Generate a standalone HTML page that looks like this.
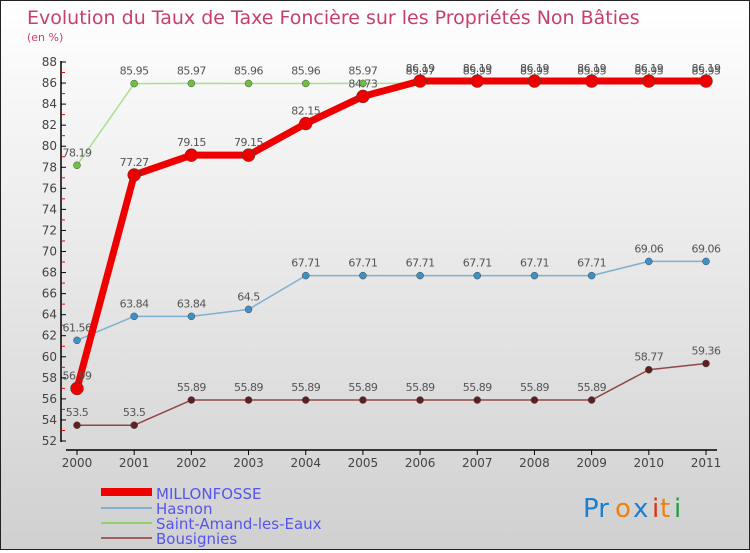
<!DOCTYPE html>
<html><head><meta charset="utf-8"><style>
body{margin:0;width:750px;height:550px;overflow:hidden}
#wrap{position:relative;width:748px;height:548px;border:1px solid #222;background:linear-gradient(#ffffff,#d0d0d0);font-family:"DejaVu Sans","Liberation Sans",sans-serif}
</style></head><body>
<div id="wrap">
<svg id="svg" width="748" height="548" xmlns="http://www.w3.org/2000/svg">
<text x="26" y="23" font-size="19" fill="#c8406a">Evolution du Taux de Taxe Foncière sur les Propriétés Non Bâties</text>
<text x="26" y="40" font-size="11" fill="#c8406a">(en %)</text>
<g id="axes"></g><g id="series"></g>
<g>
<rect x="100" y="487" width="51" height="8" fill="#e00"/>
<text x="155" y="498" font-size="15" fill="#5555ee">MILLONFOSSE</text>
<rect x="100" y="506" width="51" height="2" fill="#7fb0d0"/>
<text x="155" y="513" font-size="15" fill="#5555ee">Hasnon</text>
<rect x="100" y="521" width="51" height="2" fill="#90d070"/>
<text x="155" y="528" font-size="15" fill="#5555ee">Saint-Amand-les-Eaux</text>
<rect x="100" y="536" width="51" height="2" fill="#a06060"/>
<text x="155" y="543" font-size="15" fill="#5555ee">Bousignies</text>
</g>
<g font-size="26">
<text x="582" y="516" fill="#1a7fd0">Pr</text><text x="614" y="516" fill="#f08010">o</text><text x="632" y="516" fill="#1a7fd0">x</text><text x="651" y="516" fill="#e03010">i</text><text x="659" y="516" fill="#f08010">t</text><text x="673" y="516" fill="#20a040">i</text>
</g>
</svg></div>
<script>
const years=["2000","2001","2002","2003","2004","2005","2006","2007","2008","2009","2010","2011"];
const millonfosse=[56.99,77.27,79.15,79.15,82.15,84.73,86.19,86.19,86.19,86.19,86.19,86.19];
const hasnon=[61.56,63.84,63.84,64.5,67.71,67.71,67.71,67.71,67.71,67.71,69.06,69.06];
const saintAmand=[78.19,85.95,85.97,85.96,85.96,85.97,85.97,85.95,85.95,85.95,85.95,85.95];
const bousignies=[53.5,53.5,55.89,55.89,55.89,55.89,55.89,55.89,55.89,55.89,58.77,59.36];
const yTicks=[52,54,56,58,60,62,64,66,68,70,72,74,76,78,80,82,84,86,88];
const NS="http://www.w3.org/2000/svg";
const x=i=>76+i*(705-76)/11;
const y=v=>440-(v-52)*(440-61)/36;
function mk(tag,attrs,parent){const e=document.createElementNS(NS,tag);for(const k in attrs)e.setAttribute(k,attrs[k]);parent.appendChild(e);return e;}
const ax=document.getElementById('axes');
const yl=mk('line',{x1:60,y1:60,x2:60,y2:441,stroke:'#000','stroke-width':1.5},ax);


const xl=mk('line',{x1:65,y1:449,x2:716,y2:449,stroke:'#000','stroke-width':1.5},ax);


yTicks.forEach((t,i)=>{
  mk('line',{x1:60,x2:65,y1:y(t),y2:y(t),stroke:'#000'},ax);
  if(i<yTicks.length-1)mk('line',{x1:60,x2:64,y1:y(t+1),y2:y(t+1),stroke:'#e00'},ax);
  const tx=mk('text',{x:56,y:y(t)+4,'font-size':12,fill:'#444','text-anchor':'end'},ax);
  tx.textContent=t;
  
  
});
years.forEach((yr,i)=>{
  mk('line',{x1:x(i),x2:x(i),y1:449,y2:454,stroke:'#000'},ax);
  const tx=mk('text',{x:x(i),y:466,'font-size':12,fill:'#444','text-anchor':'middle'},ax);
  tx.textContent=yr;
  
  
});
const sg=document.getElementById('series');
function series(vals,color,w,r,name,dot){
  const g=mk('g',{},sg);
  
  
  mk('polyline',{points:vals.map((v,i)=>x(i)+','+y(v)).join(' '),fill:'none',stroke:color,'stroke-width':w,'stroke-linejoin':'round'},g);
  vals.forEach((v,i)=>{
    const c=mk('circle',{cx:x(i),cy:y(v),r:r,fill:dot,stroke:'#444','stroke-width':0.5},g);
    
    
    const t=mk('text',{x:x(i),y:y(v)-9,'font-size':11,fill:'#555','text-anchor':'middle','letter-spacing':'-0.5'},g);
    t.textContent=v;
    
    
  });
}
series(saintAmand,'#a8e090',1.5,3.5,'saint-amand','#70c040');
series(hasnon,'#7fb0d0',1.5,3.5,'hasnon','#4090c8');
series(bousignies,'#904848',1.5,3.5,'bousignies','#602020');
series(millonfosse,'#ee0000',7,6.5,'millonfosse','#ee0000');
</script>
</body></html>
